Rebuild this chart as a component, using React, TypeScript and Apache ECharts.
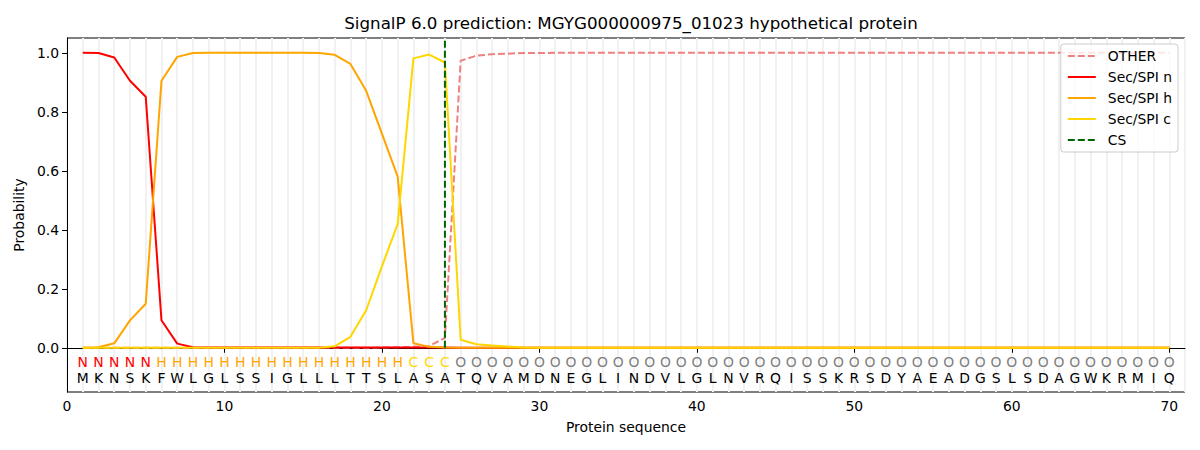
import React, { useEffect, useRef } from "react";
import * as echarts from "echarts";

const TITLE = "SignalP 6.0 prediction: MGYG000000975_01023 hypothetical protein";
const SEQUENCE = "MKNSKFWLGLSSIGLLLTTSLASATQVAMDNEGLINDVLGLNVRQISSKRSDYAEADGSLSDAGWKRMIQ".split("");
const REGIONS = ("NNNNN" + "HHHHHHHHHHHHHHHH" + "CCC" + "OOOOOOOOOO" + "OOOOOOOOOO" + "OOOOOOOOOO" + "OOOOOOOOOO" + "OOOOOO").split("");
const REGION_COLORS: Record<string, string> = { N: "#ff0000", H: "#ffa500", C: "#ffd700", O: "#808080" };

const OTHER = [
  0, 0, 0, 0, 0, 0, 0, 0, 0, 0,
  0, 0, 0, 0, 0, 0, 0, 0, 0, 0.001,
  0.002, 0.003, 0.006, 0.033, 0.973, 0.99, 0.995, 0.997, 0.999, 0.999,
  1, 1, 1, 1, 1, 1, 1, 1, 1, 1,
  1, 1, 1, 1, 1, 1, 1, 1, 1, 1,
  1, 1, 1, 1, 1, 1, 1, 1, 1, 1,
  1, 1, 1, 1, 1, 1, 1, 1, 1, 1,
];
const SEC_N = [
  1.0, 0.999, 0.984, 0.905, 0.851, 0.093, 0.014, 0.002, 0.001, 0.001,
  0.001, 0.001, 0.001, 0.001, 0.001, 0.001, 0.001, 0.001, 0.001, 0.001,
  0.001, 0.001, 0.001, 0.001, 0, 0, 0, 0, 0, 0,
  0, 0, 0, 0, 0, 0, 0, 0, 0, 0,
  0, 0, 0, 0, 0, 0, 0, 0, 0, 0,
  0, 0, 0, 0, 0, 0, 0, 0, 0, 0,
  0, 0, 0, 0, 0, 0, 0, 0, 0, 0,
];
const SEC_H = [
  0, 0.002, 0.015, 0.093, 0.149, 0.905, 0.986, 0.999, 1, 1,
  1, 1, 1, 1, 1, 0.999, 0.993, 0.962, 0.871, 0.726,
  0.58, 0.015, 0.003, 0.001, 0, 0, 0, 0, 0, 0,
  0, 0, 0, 0, 0, 0, 0, 0, 0, 0,
  0, 0, 0, 0, 0, 0, 0, 0, 0, 0,
  0, 0, 0, 0, 0, 0, 0, 0, 0, 0,
  0, 0, 0, 0, 0, 0, 0, 0, 0, 0,
];
const SEC_C = [
  0, 0, 0, 0, 0, 0, 0, 0, 0, 0,
  0, 0, 0, 0, 0, 0, 0.005, 0.037, 0.127, 0.276,
  0.419, 0.981, 0.994, 0.967, 0.027, 0.012, 0.008, 0.004, 0.001, 0,
  0, 0, 0, 0, 0, 0, 0, 0, 0, 0,
  0, 0, 0, 0, 0, 0, 0, 0, 0, 0,
  0, 0, 0, 0, 0, 0, 0, 0, 0, 0,
  0, 0, 0, 0, 0, 0, 0, 0, 0, 0,
];
const CS_POS = 24;
const X_TICKS = [0, 10, 20, 30, 40, 50, 60, 70];
const Y_TICKS = [0, 0.2, 0.4, 0.6, 0.8, 1.0];
const X_MIN = 0, X_MAX = 71, Y_MIN = -0.15, Y_MAX = 1.05;

const FONT = "DejaVu Sans";
const DASH = [7, 3];

const pts = (arr: number[]) => arr.map((v, i) => [i + 1, v]);

export default function App() {
  const ref = useRef<HTMLDivElement>(null);
  useEffect(() => {
    if (!ref.current) return;
    const chart = echarts.init(ref.current, undefined, { renderer: "svg" });
    const lineBase = { type: "line", symbol: "none", showSymbol: false, xAxisIndex: 0, yAxisIndex: 0 };
    chart.setOption({
      animation: false,
      textStyle: { fontFamily: FONT },
      title: {
        text: TITLE,
        left: 626,
        textAlign: "center",
        top: 9,
        textStyle: { fontFamily: FONT, fontSize: 16.7, fontWeight: "normal", color: "#000" },
      },
      grid: { left: 67, right: 15, top: 38, bottom: 58, show: true, borderColor: "#000", borderWidth: 1, backgroundColor: "transparent" },
      legend: {
        data: ["OTHER", "Sec/SPI n", "Sec/SPI h", "Sec/SPI c", "CS"],
        orient: "vertical",
        right: 22,
        top: 44,
        itemWidth: 28,
        itemHeight: 14,
        itemGap: 7,
        padding: [5, 6, 5, 6],
        backgroundColor: "rgba(255,255,255,0.8)",
        borderColor: "#cccccc",
        borderWidth: 1,
        borderRadius: 3,
        itemStyle: { opacity: 0, borderWidth: 0 },
        textStyle: { fontFamily: FONT, fontSize: 13.9, color: "#000", padding: [0, 0, 0, 7] },
      },
      xAxis: [
        {
          type: "value",
          min: X_MIN,
          max: X_MAX,
          name: "Protein sequence",
          nameLocation: "middle",
          nameGap: 28,
          nameTextStyle: { fontFamily: FONT, fontSize: 13.9, color: "#000" },
          axisLine: { show: true, lineStyle: { color: "#000", width: 1 } },
          axisTick: { show: true, length: 5, lineStyle: { color: "#000" }, customValues: X_TICKS },
          axisLabel: { show: true, fontFamily: FONT, fontSize: 13.9, color: "#000", margin: 7, customValues: X_TICKS },
          splitLine: { show: false },
        },
        {
          type: "value",
          min: X_MIN,
          max: X_MAX,
          interval: 1,
          position: "top",
          axisLine: { show: false },
          axisTick: { show: false },
          axisLabel: { show: false },
          splitLine: { show: true, lineStyle: { color: "#f1f1f1", width: 2 } },
        },
      ],
      yAxis: {
        type: "value",
        min: Y_MIN,
        max: Y_MAX,
        name: "Probability",
        nameLocation: "middle",
        nameGap: 40,
        nameRotate: 90,
        nameTextStyle: { fontFamily: FONT, fontSize: 13.9, color: "#000" },
        axisLine: { show: true, lineStyle: { color: "#000", width: 1 } },
        axisTick: { show: true, length: 5, lineStyle: { color: "#000" }, customValues: Y_TICKS },
        axisLabel: {
          show: true,
          fontFamily: FONT,
          fontSize: 13.9,
          color: "#000",
          margin: 8,
          customValues: Y_TICKS,
          formatter: (v: number) => v.toFixed(1),
        },
        splitLine: { show: false },
      },
      series: [
        { ...lineBase, name: "OTHER", data: pts(OTHER), lineStyle: { color: "#f08080", width: 2, type: DASH }, itemStyle: { color: "#f08080" } },
        { ...lineBase, name: "Sec/SPI n", data: pts(SEC_N), lineStyle: { color: "#ff0000", width: 2 }, itemStyle: { color: "#ff0000" } },
        { ...lineBase, name: "Sec/SPI h", data: pts(SEC_H), lineStyle: { color: "#ffa500", width: 2 }, itemStyle: { color: "#ffa500" } },
        { ...lineBase, name: "Sec/SPI c", data: pts(SEC_C), lineStyle: { color: "#ffd700", width: 2 }, itemStyle: { color: "#ffd700" } },
        {
          ...lineBase,
          name: "CS",
          data: [[CS_POS, 0], [CS_POS, Y_MAX]],
          lineStyle: { color: "#006400", width: 2, type: DASH },
          itemStyle: { color: "#006400" },
        },
        {
          type: "custom",
          name: "letters",
          xAxisIndex: 0,
          yAxisIndex: 0,
          silent: true,
          data: SEQUENCE.map((_, i) => [i + 1, i]),
          renderItem: (params: any, api: any) => {
            const idx = api.value(1);
            const p = api.coord([api.value(0), 0]);
            const region = REGIONS[idx];
            return {
              type: "group",
              children: [
                {
                  type: "text",
                  x: p[0],
                  y: p[1] + 14,
                  style: { text: region, fill: REGION_COLORS[region], font: `13.9px "${FONT}"`, align: "center", verticalAlign: "middle" },
                },
                {
                  type: "text",
                  x: p[0],
                  y: p[1] + 30,
                  style: { text: SEQUENCE[idx], fill: "#000", font: `13.9px "${FONT}"`, align: "center", verticalAlign: "middle" },
                },
              ],
            };
          },
        },
      ],
    });
    return () => chart.dispose();
  }, []);
  return <div ref={ref} style={{ width: 1200, height: 450, position: "absolute", left: 0, top: 0, background: "#fff" }} />;
}
